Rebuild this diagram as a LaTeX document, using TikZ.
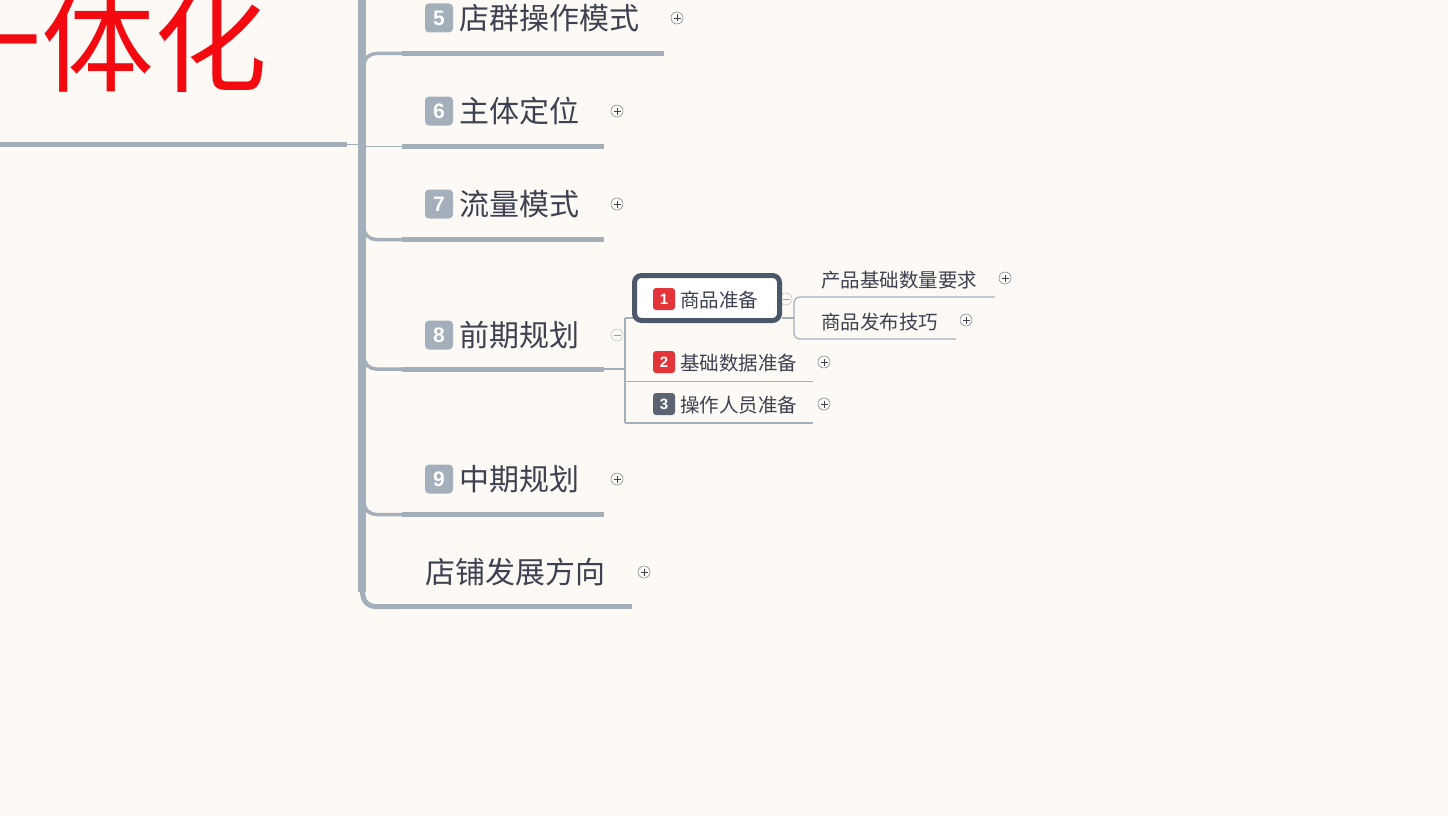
\documentclass[tikz,border=0pt]{standalone}
\usepackage{fontspec}
\setmainfont{Noto Sans CJK SC}
\newfontfamily\numf{Liberation Sans}
\definecolor{bgc}{HTML}{FDFAF5}
\definecolor{lnc}{HTML}{A3AFBA}
\definecolor{txc}{HTML}{3D4151}
\definecolor{redc}{HTML}{F20A10}
\definecolor{badgered}{HTML}{E3343A}
\definecolor{badgedark}{HTML}{5C6373}
\definecolor{boxc}{HTML}{4C5869}
\begin{document}
\begin{tikzpicture}[x=1pt,y=-1pt,
  topic/.style={anchor=west,inner sep=0pt,text=txc,font=\fontsize{30}{32}\selectfont},
  subtopic/.style={anchor=west,inner sep=0pt,text=txc,font=\fontsize{19.5}{21}\selectfont},
  badge/.style={fill=lnc,rounded corners=4pt,minimum width=28pt,minimum height=29pt,inner sep=0pt,text=white,font=\numf\bfseries\fontsize{21}{21}\selectfont},
  sbadge/.style={rounded corners=3pt,minimum width=22pt,minimum height=22pt,inner sep=0pt,text=white,font=\numf\bfseries\fontsize{15}{15}\selectfont},
  uline/.style={draw=lnc,line width=5pt},
  corner/.style={draw=lnc,line width=3.5pt,rounded corners=12pt},
  thin/.style={draw=lnc,line width=1.2pt},
  icon/.style={circle,draw=lnc!80!black,line width=0.6pt,minimum size=12pt,inner sep=0pt,fill=bgc}
]
\fill[bgc] (0,0) rectangle (1448,816);
\clip (0,0) rectangle (1448,816);

% big red title
\node[anchor=base east,inner sep=0pt,text=redc,font=\fontsize{113}{113}\selectfont] (title) at (268,84) {一体化};

% root line
\coordinate (rootend) at (347,144.5);
\coordinate (junc) at (362,144.5);
\draw[uline] (-5,144.5) -- (rootend);
\draw[thin] (rootend) -- (junc);

% trunk
\draw[draw=lnc,line width=8pt] (362,-10) -- (362,592);

% branch coordinates
\coordinate (u5) at (402,53.5);
\coordinate (u6) at (402,146.5);
\coordinate (u7) at (402,239.5);
\coordinate (u8) at (402,369);
\coordinate (u9) at (402,514.5);
\coordinate (u10) at (402,606.5);

\draw[corner] (junc) -- (364,53.5) -- (u5);
\draw[thin] (364,146.5) -- (u6);
\draw[corner] (junc) -- (364,239.5) -- (u7);
\draw[corner] (junc) -- (364,369) -- (u8);
\draw[corner] (junc) -- (364,514.5) -- (u9);
\draw[corner,line width=5pt] (362,560) -- (363,606.5) -- (u10);

\draw[uline] (u5) -- (664,53.5) coordinate (e5);
\draw[uline] (u6) -- (604,146.5) coordinate (e6);
\draw[uline] (u7) -- (604,239.5) coordinate (e7);
\draw[uline] (u8) -- (604,369) coordinate (e8);
\draw[uline] (u9) -- (604,514.5) coordinate (e9);
\draw[uline] (u10) -- (632,606.5) coordinate (e10);

% topics
\node[badge] (b5) at (439,18) {5};
\node[topic] (t5) at (459,18) {店群操作模式};
\node[badge] (b6) at (439,111) {6};
\node[topic] (t6) at (459,111) {主体定位};
\node[badge] (b7) at (439,204) {7};
\node[topic] (t7) at (459,204) {流量模式};
\node[badge] (b8) at (439,335) {8};
\node[topic] (t8) at (459,335) {前期规划};
\node[badge] (b9) at (439,479) {9};
\node[topic] (t9) at (459,479) {中期规划};
\node[topic] (t10) at (425,572) {店铺发展方向};

% icons
\foreach \n/\x/\y in {i5/677/18,i6/617/111,i7/617/204,i9/617/479,i10/644/572,is2/824/362,is3/824/404,iss1/1005/278,iss2/966/320}{
  \node[icon] (\n) at (\x,\y) {};
  \draw[txc,line width=0.6pt] (\x-3.5,\y) -- (\x+3.5,\y) (\x,\y-3.5) -- (\x,\y+3.5);
}
\foreach \n/\x/\y in {i8/617/335}{
  \node[icon,draw=lnc!70] (\n) at (\x,\y) {};
  \draw[lnc!90!black,line width=0.6pt] (\x-3.5,\y) -- (\x+3.5,\y);
}

% sub-branches of 8
\coordinate (s8a) at (625,369);
\coordinate (vtop) at (625,318);
\coordinate (vbot) at (625,423);
\draw[thin] (e8) -- (s8a);
\draw[thin] (vtop) -- (vbot);
\draw[thin] (625,381.5) -- (813,381.5) coordinate (ue2);
\draw[thin] (vbot) -- (813,423) coordinate (ue3);

% sub-sub of box 1
\coordinate (ssj) at (794,318);
\draw[thin] (782,318) -- (ssj);
\draw[thin,rounded corners=6pt] (ssj) -- (794,297) -- (995,297) coordinate (uss1);
\draw[thin,rounded corners=6pt] (ssj) -- (794,339) -- (956,339) coordinate (uss2);

% collapse icon of box 1
\node[icon,draw=lnc!70] (ib1) at (786,299) {};
\draw[lnc!90!black,line width=0.6pt] (782.5,299) -- (789.5,299);

% box 1
\draw[thin] (vtop) -- (634,318);
\node[draw=boxc,line width=5pt,rounded corners=7pt,fill=white,minimum width=145pt,minimum height=45pt,inner sep=0pt] (box1) at (707,298) {};
\node[sbadge,fill=badgered] (sb1) at (664,299) {1};
\node[subtopic] (st1) at (680,300) {商品准备};

\node[sbadge,fill=badgered] (sb2) at (664,362) {2};
\node[subtopic] (st2) at (680,363) {基础数据准备};
\node[sbadge,fill=badgedark] (sb3) at (664,404) {3};
\node[subtopic] (st3) at (680,405) {操作人员准备};

\node[subtopic] (ss1) at (821,280) {产品基础数量要求};
\node[subtopic] (ss2) at (821,322) {商品发布技巧};
\end{tikzpicture}
\end{document}
